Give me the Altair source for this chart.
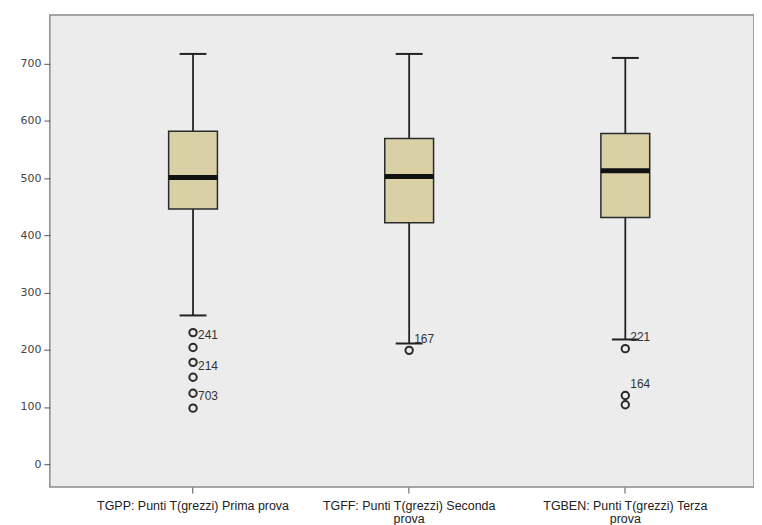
import altair as alt
import pandas as pd

# ---- data ----
categories = [
    "TGPP: Punti T(grezzi) Prima prova",
    "TGFF: Punti T(grezzi) Seconda|prova",
    "TGBEN: Punti T(grezzi) Terza|prova",
]
whisker_high = [717, 717, 710]
q3 = [582, 569, 578]
median = [501, 503, 513]
q1 = [446, 422, 431]
whisker_low = [260, 211, 218]

outlier_group = [0, 0, 0, 0, 0, 0, 1, 2, 2, 2]
outlier_value = [230, 204, 178, 152, 124, 98, 199, 202, 120, 104]

label_group = [0, 0, 0, 1, 2, 2]
label_text = ["241", "214", "703", "167", "221", "164"]
label_value = [226, 171, 119, 218, 222, 141]

y_ticks = [0, 100, 200, 300, 400, 500, 600, 700]

# ---- tables ----
boxes = pd.DataFrame({
    "cat": categories,
    "lo": whisker_low,
    "q1": q1,
    "med": median,
    "q3": q3,
    "hi": whisker_high,
})
outs = pd.DataFrame({"cat": [categories[g] for g in outlier_group], "v": outlier_value})
labs = pd.DataFrame({"cat": [categories[g] for g in label_group], "v": label_value, "t": label_text})

xscale = alt.Scale(domain=categories, paddingInner=0, paddingOuter=0.129, align=0.63)
yscale = alt.Scale(domain=[-40, 785], nice=False, zero=False)

x_enc = alt.X("cat:N", scale=xscale, sort=categories, title=None,
              axis=alt.Axis(labelAngle=0, labelExpr="split(datum.label, '|')",
                            labelFont="Liberation Sans", labelFontSize=12.5,
                            labelColor="#222", tickColor="#555", tickSize=6,
                            domain=False, labelPadding=6, labelLineHeight=14,
                            labelLimit=400, labelOverlap=False))
y_axis = alt.Axis(values=y_ticks, grid=False, domain=False, tickColor="#555",
                  tickSize=6, labelFont="DejaVu Sans", labelFontSize=11,
                  labelColor="#444", minExtent=42, labelPadding=3)

base = alt.Chart(boxes)

whisk = base.mark_rule(color="#222", strokeWidth=1.8).encode(
    x=x_enc,
    y=alt.Y("lo:Q", scale=yscale, axis=y_axis, title=None),
    y2="hi:Q",
)
box = base.mark_bar(size=49, color="#DAD0A6", stroke="#2a2a2a", strokeWidth=1.5,
                    opacity=1).encode(
    x=x_enc, y=alt.Y("q1:Q", scale=yscale), y2="q3:Q"
)
med_tick = base.mark_tick(size=49, thickness=5, color="#111", opacity=1).encode(
    x=x_enc, y=alt.Y("med:Q", scale=yscale)
)
cap_hi = base.mark_tick(size=27, thickness=2, color="#222", opacity=1).encode(
    x=x_enc, y=alt.Y("hi:Q", scale=yscale)
)
cap_lo = base.mark_tick(size=27, thickness=2, color="#222", opacity=1).encode(
    x=x_enc, y=alt.Y("lo:Q", scale=yscale)
)
pts = alt.Chart(outs).mark_point(shape="circle", size=55, filled=False,
                                 color="#2a2a2a", strokeWidth=2, opacity=1).encode(
    x=x_enc, y=alt.Y("v:Q", scale=yscale)
)
txt = alt.Chart(labs).mark_text(align="left", baseline="middle", dx=5,
                                font="Liberation Sans", fontSize=12,
                                color="#333").encode(
    x=x_enc, y=alt.Y("v:Q", scale=yscale), text="t:N"
)

chart = alt.layer(whisk, box, med_tick, cap_hi, cap_lo, pts, txt).properties(
    width=707, height=474,
    padding={"left": 0, "top": 6, "right": 0, "bottom": 0},
    background="white",
).configure_view(
    fill="#ECECEC", stroke="#8a8a8a", strokeWidth=1.5
)

chart.save("out.html", embed_options={"renderer": "svg", "actions": False})
